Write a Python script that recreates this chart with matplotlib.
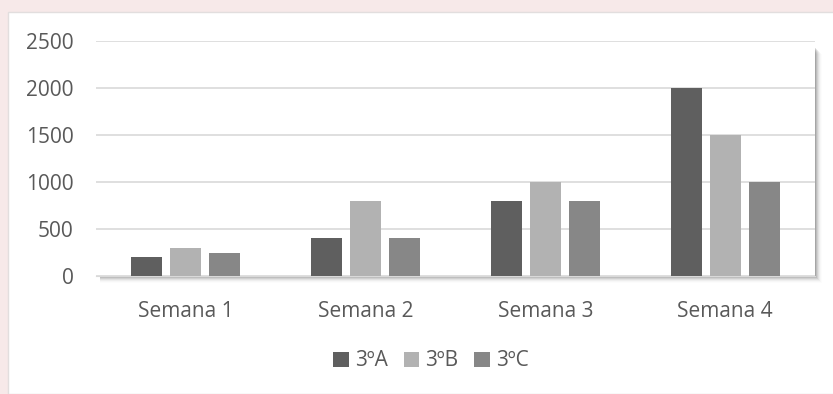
import numpy as np
import matplotlib.pyplot as plt
from matplotlib.patches import Rectangle

# weekly totals per class
semanas = ["Semana 1", "Semana 2", "Semana 3", "Semana 4"]
turmas = ["3ºA", "3ºB", "3ºC"]
valores_3A = [200, 400, 800, 2000]
valores_3B = [300, 800, 1000, 1500]
valores_3C = [250, 400, 800, 1000]
yticks = [0, 500, 1000, 1500, 2000, 2500]

cores = ["#5f5f5f", "#b2b2b2", "#878787"]
texto = "#595959"
plt.rcParams['font.family'] = ['Open Sans', 'DejaVu Sans']

W, H = 833, 394
fig = plt.figure(figsize=(W / 100, H / 100), dpi=100)
fig.patch.set_facecolor("#f7e9e9")

# white card behind the chart
fig.patches.append(Rectangle((8 / W, 0), 1, (H - 12) / H, transform=fig.transFigure,
                             facecolor="white", edgecolor="#e2dede", linewidth=1.0, zorder=0))

x0, x1 = 96 / W, 815 / W
y0, y1 = (H - 276) / H, (H - 41) / H

# soft drop shadow below and right of the plot area
for i, a in enumerate([0.12, 0.09, 0.07, 0.05, 0.035, 0.02, 0.01]):
    d = (i + 1)
    fig.patches.append(Rectangle((x0 + 4 / W, y0 - d / H), (x1 - x0) - 4 / W + d / W, (y1 - y0) - 6 / H,
                                 transform=fig.transFigure, facecolor="black", alpha=a,
                                 edgecolor="none", zorder=0.5))
fig.patches.append(Rectangle((x0, y0), x1 - x0, y1 - y0, transform=fig.transFigure,
                             facecolor="white", edgecolor="none", zorder=0.6))

ax = fig.add_axes([x0, y0, x1 - x0, y1 - y0])
ax.set_facecolor("none")
ax.set_zorder(2)

x = np.arange(len(semanas))
w = 0.172
passo = 0.217
for k, (serie, nome) in enumerate(zip([valores_3A, valores_3B, valores_3C], turmas)):
    ax.bar(x + (k - 1) * passo, serie, width=w, color=cores[k], label=nome, zorder=3)

ax.set_xlim(-0.5, len(semanas) - 0.5)
ax.set_ylim(0, 2500)
ax.set_yticks(yticks)
ax.set_xticks(x)
ax.set_xticklabels(semanas)
ax.grid(axis="y", color="#d9d9d9", linewidth=1.2, zorder=0)
ax.set_axisbelow(True)
ax.tick_params(axis="both", length=0, labelsize=15, colors=texto)
ax.tick_params(axis="y", pad=16)
ax.tick_params(axis="x", pad=18)
for s in ["top", "right", "left"]:
    ax.spines[s].set_visible(False)
ax.spines["bottom"].set_color("#d9d9d9")

leg = fig.legend(loc="center", bbox_to_anchor=(431 / W, (H - 361) / H), ncol=3,
                 frameon=False, fontsize=15, handlelength=0.75, handleheight=0.75,
                 handletextpad=0.3, columnspacing=0.75)
leg.set_zorder(3)
for t in leg.get_texts():
    t.set_color(texto)

fig.savefig("out.png", dpi=100, facecolor=fig.get_facecolor())
